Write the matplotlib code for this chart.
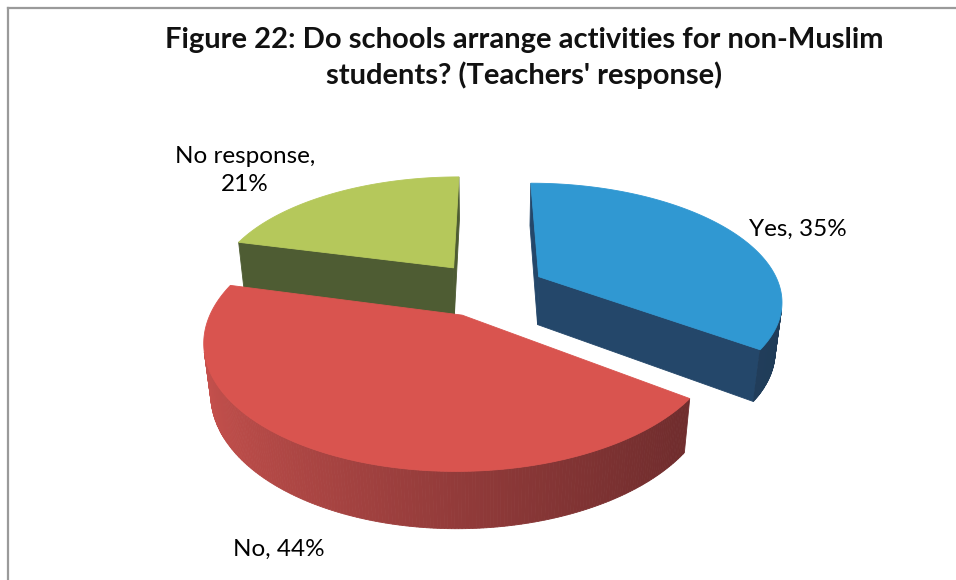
import numpy as np
import matplotlib
matplotlib.use("Agg")
import matplotlib.pyplot as plt
from matplotlib.patches import Polygon
from matplotlib.lines import Line2D

# ---- data ----
title = "Figure 22: Do schools arrange activities for non-Muslim\nstudents? (Teachers' response)"
labels = ["Yes", "No", "No response"]
values = [35, 44, 21]

# ---- style ----
top_colors = ["#3098d2", "#d9544f", "#b5c85b"]
side_light = ["#2c5680", "#c9524e", "#5a6b3b"]
side_dark = ["#203c58", "#6a2a2b", "#46532c"]
radial_colors = ["#24476a", "#8a3634", "#4e5c33"]
label_style = [  # radius factor, height factor, alignment, pixel nudge
    dict(r=1.10, z=0.0, ha="left", nudge=(2, 3), wrap=False),
    dict(r=1.30, z=-0.5, ha="center", nudge=(3, 12), wrap=False),
    dict(r=1.25, z=0.0, ha="right", nudge=(8, -7), wrap=True),
]

W, H = 956, 580
fig = plt.figure(figsize=(W / 100, H / 100), dpi=100)
ax = fig.add_axes([0, 0, 1, 1])
ax.set_xlim(0, W)
ax.set_ylim(H, 0)
ax.axis("off")

# perspective view of a tilted disc
OX, OY = 488, 289
KX, KY = 242, 245
PHI = np.arcsin(115.4 / 245)
DIST = 4.67
THICK = 0.23
EXPLODE = 0.24
cam = np.array([0.0, -DIST * np.cos(PHI), DIST * np.sin(PHI)])
light = np.array([-1.0, 0.15])
light /= np.linalg.norm(light)


def project(X, Y, Z):
    X, Y, Z = np.asarray(X, float), np.asarray(Y, float), np.asarray(Z, float)
    s = DIST / (DIST + Y * np.cos(PHI) - Z * np.sin(PHI))
    return OX + KX * X * s, OY - KY * (Y * np.sin(PHI) + Z * np.cos(PHI)) * s


def facing(normal, point):
    return np.dot(normal, cam - np.asarray(point)) > 0


def mix(c1, c2, t):
    a = np.array(matplotlib.colors.to_rgb(c1))
    b = np.array(matplotlib.colors.to_rgb(c2))
    return tuple(a + (b - a) * t)


def poly(xs, ys, color, z):
    ax.add_patch(Polygon(np.column_stack([xs, ys]), closed=True, facecolor=color,
                         edgecolor=color, linewidth=0.6, zorder=z, antialiased=True))


fracs = np.array(values, float) / np.sum(values)
bounds = np.concatenate([[0.0], np.cumsum(fracs)]) * 2 * np.pi
slices = []
for i in range(len(values)):
    t0, t1 = bounds[i], bounds[i + 1]
    mid = 0.5 * (t0 + t1)
    dx, dy = EXPLODE * np.sin(mid), EXPLODE * np.cos(mid)
    slices.append((i, t0, t1, mid, dx, dy))

# paint far slices first
order = sorted(slices, key=lambda s: -s[5])
for rank, (i, t0, t1, mid, dx, dy) in enumerate(order):
    base = rank * 10
    # radial faces
    for edge, n in ((t0, np.array([-np.cos(t0), np.sin(t0), 0.0])),
                    (t1, np.array([np.cos(t1), -np.sin(t1), 0.0]))):
        if facing(n, [dx, dy, 0.0]):
            ex, ey = dx + np.sin(edge), dy + np.cos(edge)
            X = [dx, ex, ex, dx]
            Y = [dy, ey, ey, dy]
            Z = [0, 0, -THICK, -THICK]
            px, py = project(X, Y, Z)
            poly(px, py, radial_colors[i], base + 1)
    # curved outer side
    th = np.linspace(t0, t1, 240)
    for a, b in zip(th[:-1], th[1:]):
        m = 0.5 * (a + b)
        n = np.array([np.sin(m), np.cos(m), 0.0])
        if not facing(n, [dx + np.sin(m), dy + np.cos(m), -THICK / 2]):
            continue
        t = (np.dot(n[:2], light) + 1) / 2
        col = mix(side_dark[i], side_light[i], t)
        X = [dx + np.sin(a), dx + np.sin(b), dx + np.sin(b), dx + np.sin(a)]
        Y = [dy + np.cos(a), dy + np.cos(b), dy + np.cos(b), dy + np.cos(a)]
        Z = [0, 0, -THICK, -THICK]
        px, py = project(X, Y, Z)
        poly(px, py, col, base + 2)
    # top face
    X = np.concatenate([[dx], dx + np.sin(th)])
    Y = np.concatenate([[dy], dy + np.cos(th)])
    px, py = project(X, Y, np.zeros_like(X))
    poly(px, py, top_colors[i], base + 3)

# data labels
for (i, t0, t1, mid, dx, dy) in slices:
    st = label_style[i]
    lx, ly = project(dx + st["r"] * np.sin(mid), dy + st["r"] * np.cos(mid), st["z"] * THICK)
    sep = ",\n" if st["wrap"] else ", "
    text = f"{labels[i]}{sep}{values[i]}%"
    ax.text(lx + st["nudge"][0], ly + st["nudge"][1], text, ha=st["ha"], va="center",
            multialignment="center", fontsize=17.5, family="Lato", color="black",
            zorder=50, linespacing=1.4)

# title
ax.text(524, 58, title, ha="center", va="center", fontsize=21, family="Lato",
        fontweight="bold", color="#111111", linespacing=1.38, zorder=50)

# chart-area frame
fig.add_artist(Line2D([8 / W, 1.0], [1 - 8 / H, 1 - 8 / H], color="#9a9a9a", lw=1.6))
fig.add_artist(Line2D([8 / W, 8 / W], [0.0, 1 - 8 / H], color="#9a9a9a", lw=1.6))

fig.savefig("out.png", dpi=100)
